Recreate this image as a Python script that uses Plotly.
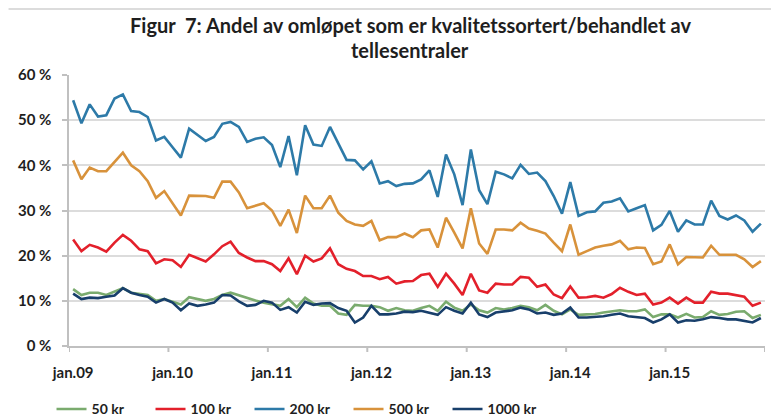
import plotly.graph_objects as go

# ---- data (percent of circulation, monthly jan.09 - des.15) ----
month_abbr = ["jan", "feb", "mar", "apr", "mai", "jun", "jul", "aug", "sep", "okt", "nov", "des"]
years = ["09", "10", "11", "12", "13", "14", "15"]
months = [f"{m}.{y}" for y in years for m in month_abbr]
tick_labels = ["jan.09", "jan.10", "jan.11", "jan.12", "jan.13", "jan.14", "jan.15"]
y_ticks = [0, 10, 20, 30, 40, 50, 60]
y_tick_labels = ["0 %", "10 %", "20 %", "30 %", "40 %", "50 %", "60 %"]

kr50 = [12.6, 11.3, 11.8, 11.8, 11.3, 12.0, 12.8, 11.8, 11.5, 11.3, 10.0, 10.4, 9.8, 9.2, 10.8, 10.4, 10.0, 10.4, 11.3, 11.8, 11.2,
        10.7, 10.1, 9.6, 9.2, 8.9, 10.4, 8.6, 10.7, 9.4, 8.9, 8.9, 7.2, 6.9, 9.1, 8.9, 8.9, 8.6, 7.8, 8.4, 7.9, 7.8,
        8.4, 8.9, 7.8, 9.8, 8.5, 7.8, 9.2, 7.9, 7.4, 8.4, 8.1, 8.4, 8.9, 8.6, 7.9, 9.1, 7.8, 7.0, 8.1, 6.9, 7.0,
        7.1, 7.4, 7.7, 7.9, 7.7, 7.7, 8.1, 6.4, 7.0, 7.0, 6.3, 7.1, 6.3, 6.4, 7.7, 6.9, 7.1, 7.6, 7.7, 6.2, 6.9]

kr100 = [23.6, 21.0, 22.4, 21.8, 20.9, 22.9, 24.6, 23.3, 21.4, 21.0, 18.3, 19.2, 19.0, 17.5, 20.2, 19.4, 18.7, 20.3, 22.1, 23.1, 20.6,
         19.6, 18.8, 18.8, 18.1, 16.6, 19.4, 15.9, 20.0, 18.7, 19.4, 21.6, 18.1, 17.1, 16.6, 15.5, 15.5, 14.8, 15.3, 13.8, 14.3, 14.4,
         15.7, 16.0, 13.1, 16.0, 13.8, 11.3, 16.0, 12.3, 11.8, 13.8, 13.6, 13.6, 15.3, 15.1, 13.1, 13.6, 11.4, 10.6, 13.2, 10.7, 10.8,
         11.1, 10.7, 11.5, 12.9, 12.0, 11.3, 11.6, 9.2, 9.6, 10.7, 9.4, 10.7, 9.6, 9.6, 12.0, 11.6, 11.6, 11.3, 10.9, 8.9, 9.6]

kr200 = [54.4, 49.3, 53.5, 50.8, 51.1, 54.8, 55.7, 52.0, 51.8, 50.7, 45.5, 46.3, 44.0, 41.7, 48.1, 46.8, 45.4, 46.3, 49.2, 49.6, 48.5,
         45.2, 45.9, 46.2, 44.5, 39.6, 46.5, 37.8, 48.9, 44.6, 44.3, 48.5, 45.0, 41.2, 41.1, 39.1, 40.9, 36.0, 36.5, 35.4, 35.9, 36.0,
         36.9, 38.9, 33.0, 42.4, 38.0, 31.2, 43.5, 34.5, 31.4, 38.6, 38.0, 37.1, 40.1, 38.1, 38.4, 36.5, 33.2, 29.3, 36.3, 28.8, 29.6,
         29.8, 31.7, 32.0, 32.7, 29.8, 30.5, 31.2, 25.6, 26.8, 29.9, 25.3, 27.8, 26.9, 26.9, 32.2, 28.8, 28.0, 28.9, 27.8, 25.3, 27.1]

kr500 = [41.1, 36.9, 39.5, 38.7, 38.7, 40.8, 42.8, 40.0, 38.7, 36.5, 32.8, 34.3, 31.7, 28.9, 33.3, 33.2, 33.2, 32.8, 36.4, 36.4, 34.0,
         30.5, 31.0, 31.6, 30.0, 26.6, 30.2, 25.0, 33.3, 30.5, 30.5, 33.3, 29.5, 27.7, 26.9, 26.6, 27.7, 23.4, 24.1, 24.1, 24.9, 24.1,
         25.6, 25.8, 21.8, 28.4, 25.1, 21.6, 30.5, 22.7, 20.4, 25.8, 25.8, 25.6, 27.3, 26.0, 25.5, 24.9, 22.9, 21.0, 26.9, 20.2, 21.0,
         21.8, 22.2, 22.5, 23.3, 21.4, 21.8, 21.7, 18.1, 18.7, 22.5, 18.1, 19.7, 19.6, 19.6, 22.2, 20.2, 20.2, 20.2, 19.2, 17.5, 18.8]

kr1000 = [11.6, 10.4, 10.7, 10.6, 10.9, 11.2, 12.8, 11.8, 11.3, 10.9, 9.6, 10.4, 9.6, 7.9, 9.4, 8.9, 9.2, 9.6, 11.3, 11.2, 9.9,
          8.9, 9.1, 10.0, 9.6, 8.0, 8.6, 7.4, 9.8, 9.1, 9.4, 9.5, 8.4, 7.8, 5.2, 6.3, 8.9, 7.0, 7.0, 7.2, 7.6, 7.5,
          7.8, 7.4, 6.9, 8.6, 7.8, 7.2, 9.6, 7.0, 6.4, 7.4, 7.6, 7.9, 8.5, 8.1, 7.2, 7.4, 6.9, 7.2, 8.5, 6.3, 6.3,
          6.4, 6.6, 6.9, 7.2, 6.6, 6.4, 6.2, 5.2, 5.9, 7.0, 5.2, 5.7, 5.6, 5.9, 6.4, 6.2, 5.9, 5.9, 5.6, 5.2, 6.2]

series_names = ["50 kr", "100 kr", "200 kr", "500 kr", "1000 kr"]
series_values = [kr50, kr100, kr200, kr500, kr1000]
series_colors = ["#7aab6e", "#e3202b", "#2d7aa8", "#d8923b", "#183f6b"]

# ---- geometry (page pixels; the page body has an 8px default margin) ----
OFF = 8
W, H = 779 - OFF, 420 - OFF
L, R, T, B = 68.5 - OFF, 765.0 - OFF, 75.0 - OFF, 346.5 - OFF
PW, PH = R - L, B - T

x_idx = list(range(len(months)))
FONT = "Lato"
TXT = "#1e1e1e"
AX = "silver"
GRID = "gainsboro"


def bold(s):
    return "<b>" + s + "</b>"


fig = go.Figure()
for name, vals, col in zip(series_names, series_values, series_colors):
    fig.add_trace(go.Scatter(
        x=x_idx, y=vals, name=bold(name), mode="lines",
        line=dict(color=col, width=2.6),
    ))

label_pos = [months.index(t) for t in tick_labels]
boundaries = [i - 0.5 for i in range(0, len(months) + 1, 12)]

shapes = [dict(type="line", xref="x", yref="paper", x0=bx, x1=bx, y0=0, y1=-6 / PH,
               line=dict(color=AX, width=2)) for bx in boundaries]
shapes.append(dict(type="line", xref="paper", yref="paper", x0=-L / PW, x1=(W - L) / PW,
                   y0=(B - (9 - OFF)) / PH, y1=(B - (9 - OFF)) / PH, line=dict(color=GRID, width=2)))

title_font = dict(family=FONT, size=20, color=TXT)
title_x = (410 - OFF - L) / PW
annotations = [
    dict(text=bold("Figur\u00a0 7: Andel av omløpet som er kvalitetssortert/behandlet av"),
         xref="paper", yref="paper", x=title_x, y=(B - (25 - OFF)) / PH,
         xanchor="center", yanchor="middle", showarrow=False, font=title_font),
    dict(text=bold("tellesentraler"),
         xref="paper", yref="paper", x=title_x, y=(B - (50 - OFF)) / PH,
         xanchor="center", yanchor="middle", showarrow=False, font=title_font),
]

fig.update_layout(
    width=W, height=H,
    margin=dict(l=L, r=W - R, t=T, b=H - B, autoexpand=False),
    paper_bgcolor="white", plot_bgcolor="white",
    font=dict(family=FONT, size=15, color=TXT),
    xaxis=dict(
        range=[-0.5, len(months) - 0.5],
        tickmode="array", tickvals=label_pos, ticktext=[bold(t) for t in tick_labels],
        ticks="outside", ticklen=12, tickcolor="rgba(0,0,0,0)",
        showgrid=False, zeroline=False,
        showline=True, linecolor=AX, linewidth=2,
        tickfont=dict(family=FONT, size=15, color=TXT),
    ),
    yaxis=dict(
        range=[0, 60], tickmode="array", tickvals=y_ticks,
        ticktext=[bold(t) + "\u00a0\u00a0" for t in y_tick_labels],
        ticks="outside", ticklen=5, tickcolor=AX, tickwidth=2,
        showgrid=True, gridcolor=GRID, gridwidth=2,
        zeroline=False, showline=True, linecolor=AX, linewidth=2,
        tickfont=dict(family=FONT, size=15, color=TXT),
    ),
    legend=dict(
        orientation="h", xanchor="left", yanchor="top",
        x=(51 - OFF - L) / PW, y=(B - (394 - OFF)) / PH,
        font=dict(family=FONT, size=14, color=TXT),
        entrywidth=54, entrywidthmode="pixels",
        bgcolor="rgba(0,0,0,0)",
    ),
    shapes=shapes,
    annotations=annotations,
)

fig.write_html("out.html")
